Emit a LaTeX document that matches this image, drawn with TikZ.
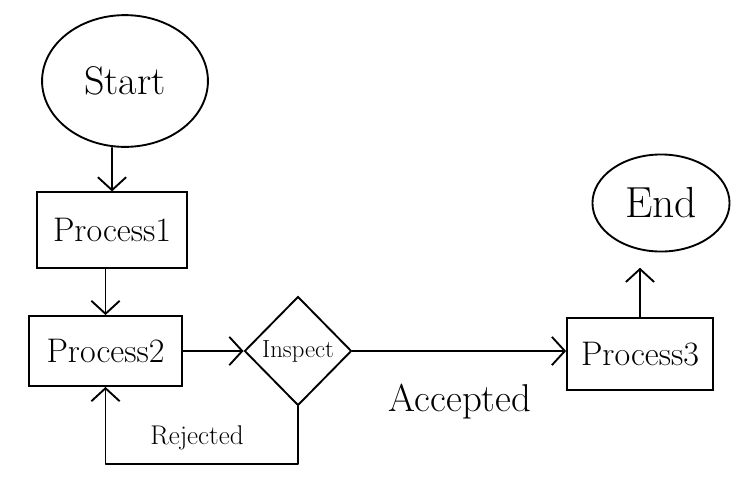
\documentclass[tikz,border=0pt]{standalone}
\usetikzlibrary{shapes.geometric,arrows.meta}
\begin{document}
\begin{tikzpicture}[x=0.85pt,y=-0.85pt,
  every node/.style={inner sep=0pt},
  line/.style={line width=1.6pt,line cap=round,line join=round},
  arr/.style={line,-{Straight Barb[length=11pt,width=24pt,line width=1.6pt]}},
  blob/.style={ellipse,draw,line width=1.6pt},
  box/.style={rectangle,draw,line width=1.6pt},
  dec/.style={diamond,draw,line width=1.6pt},
  big/.style={font=\fontsize{29}{33}\selectfont}]
\useasboundingbox (0,0) rectangle (742,493);
\node[blob,minimum width=141pt,minimum height=112pt,font=\fontsize{34}{38}\selectfont] (start) at (125,81) {Start};
\node[box,big,minimum width=127.5pt,minimum height=64pt] (p1) at (112,230) {Process1};
\node[box,big,minimum width=130pt,minimum height=59.5pt] (p2) at (105.5,351) {Process2};
\node[dec,font=\fontsize{21}{24}\selectfont,minimum width=91pt,minimum height=92.6pt] (insp) at (298,351) {Inspect};
\node[box,big,minimum width=124pt,minimum height=61pt] (p3) at (640,354) {Process3};
\node[blob,minimum width=116.5pt,minimum height=82.5pt,font=\fontsize{37}{41}\selectfont] (end) at (661,203) {End};
\node[font=\fontsize{23}{26}\selectfont] (rej) at (197,438) {Rejected};
\node[font=\fontsize{33}{37}\selectfont] (acc) at (460,402) {Accepted};
\draw[arr] (p1.north |- start.south) -- (p1.north);
\draw[arr] (p1.south -| p2.north) -- (p2.north);
\draw[arr] (p2.east) -- (insp.west);
\draw[arr] (insp.south) -- ++(0,58) -| (p2.south);
\draw[arr] (insp.east) -- (insp.east -| p3.west);
\draw[arr,shorten >=13pt] (p3.north) -- (p3.north |- end.south);
\end{tikzpicture}
\end{document}
